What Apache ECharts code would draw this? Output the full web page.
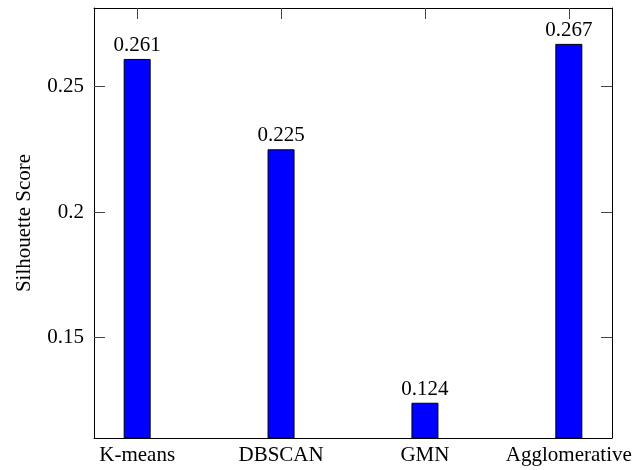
<!DOCTYPE html>
<html>
<head>
<meta charset="utf-8">
<script src="https://cdn.jsdelivr.net/npm/echarts@6/dist/echarts.min.js"></script>
<style>html,body{margin:0;padding:0;background:#fff}#c{width:635px;height:470px}</style>
</head>
<body>
<div id="c"></div>
<script>
const categories = ['K-means', 'DBSCAN', 'GMN', 'Agglomerative'];
const scores = [0.261, 0.225, 0.124, 0.267];
const yTicks = [0.15, 0.2, 0.25];
const yTitle = 'Silhouette Score';

const positions = categories.map((c, i) => i);
const seriesData = scores.map((v, i) => [i, v]);
const FONT = 'Liberation Serif';
const FS = 21;
const lineStyle = { color: '#000', width: 1 };
const tickStyle = { color: '#444', width: 1 };

const chart = echarts.init(document.getElementById('c'), null, { renderer: 'canvas' });
chart.setOption({
  animation: false,
  backgroundColor: '#fff',
  textStyle: { fontFamily: FONT },
  grid: { left: 94, right: 23, top: 8, bottom: 32, containLabel: false },
  xAxis: [
    {
      type: 'value', position: 'bottom', min: -0.3, max: 3.3,
      axisLine: { show: true, onZero: false, lineStyle: lineStyle },
      axisTick: { show: true, inside: true, length: 11, customValues: positions, lineStyle: tickStyle },
      axisLabel: {
        show: true, customValues: positions, margin: 7,
        fontFamily: FONT, fontSize: FS, color: '#000',
        formatter: v => categories[Math.round(v)] || ''
      },
      splitLine: { show: false }
    },
    {
      type: 'value', position: 'top', min: -0.3, max: 3.3,
      axisLine: { show: true, onZero: false, lineStyle: lineStyle },
      axisTick: { show: true, inside: true, length: 11, customValues: positions, lineStyle: tickStyle },
      axisLabel: { show: false },
      splitLine: { show: false }
    }
  ],
  yAxis: [
    {
      type: 'value', position: 'left', min: 0.10995, max: 0.2813,
      name: yTitle, nameLocation: 'middle', nameGap: 59, nameRotate: 90,
      nameTextStyle: { fontFamily: FONT, fontSize: FS, color: '#000' },
      axisLine: { show: true, onZero: false, lineStyle: lineStyle },
      axisTick: { show: true, inside: true, length: 11, customValues: yTicks, lineStyle: tickStyle },
      axisLabel: { show: true, customValues: yTicks, margin: 10, fontFamily: FONT, fontSize: FS, color: '#000' },
      splitLine: { show: false }
    },
    {
      type: 'value', position: 'right', min: 0.10995, max: 0.2813,
      axisLine: { show: true, onZero: false, lineStyle: lineStyle },
      axisTick: { show: true, inside: true, length: 11, customValues: yTicks, lineStyle: tickStyle },
      axisLabel: { show: false },
      splitLine: { show: false }
    }
  ],
  series: [{
    type: 'bar',
    xAxisIndex: 0, yAxisIndex: 0,
    data: seriesData,
    barWidth: 27,
    itemStyle: { color: '#0000ff', borderColor: '#000', borderWidth: 1 },
    label: {
      show: true, position: 'top', distance: 3,
      fontFamily: FONT, fontSize: FS, color: '#000',
      formatter: p => p.value[1].toFixed(3)
    }
  }]
});
</script>
</body>
</html>
